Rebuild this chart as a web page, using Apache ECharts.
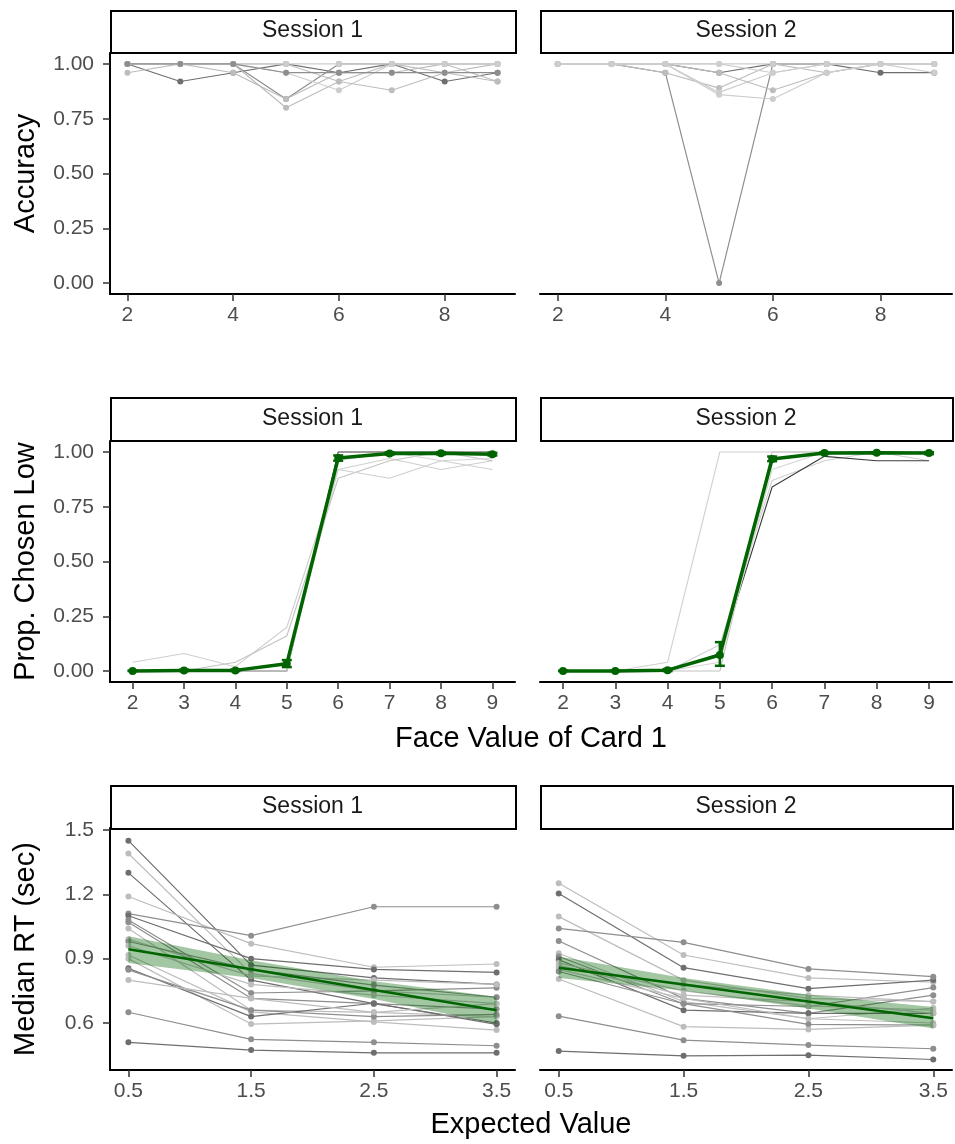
<!DOCTYPE html>
<html>
<head>
<meta charset="utf-8">
<script src="https://cdn.jsdelivr.net/npm/echarts@6.0.0/dist/echarts.min.js"></script>
<style>
  html, body { margin: 0; padding: 0; background: #ffffff; }
  #chart { width: 955px; height: 1144px; }
</style>
</head>
<body>
<div id="chart"></div>
<script>
// ---- data -------------------------------------------------------------
const sessions = ['Session 1', 'Session 2'];
const faceValues = [2, 3, 4, 5, 6, 7, 8, 9];
const expectedValues = [0.5, 1.5, 2.5, 3.5];

const accuracyTicks = [0, 0.25, 0.5, 0.75, 1];
const faceTicksSparse = [2, 4, 6, 8];
const faceTicksAll = [2, 3, 4, 5, 6, 7, 8, 9];
const rtTicks = [0.6, 0.9, 1.2, 1.5];
const evTicks = [0.5, 1.5, 2.5, 3.5];

// accuracy per participant, one row per participant, one value per face value
const accuracyS1 = [
  [1.00, 0.92, 0.96, 1.00, 0.96, 1.00, 0.92, 0.96],
  [1.00, 1.00, 1.00, 0.84, 1.00, 1.00, 1.00, 1.00],
  [1.00, 1.00, 1.00, 0.80, 0.92, 1.00, 0.96, 1.00],
  [0.96, 1.00, 0.96, 0.84, 0.96, 0.96, 1.00, 0.92],
  [1.00, 1.00, 1.00, 0.96, 0.88, 1.00, 1.00, 1.00],
  [1.00, 1.00, 1.00, 1.00, 0.92, 0.88, 0.96, 0.92],
  [1.00, 1.00, 1.00, 1.00, 1.00, 1.00, 1.00, 1.00],
  [1.00, 1.00, 1.00, 0.96, 0.96, 0.96, 0.96, 0.96]
];
const accuracyS2 = [
  [1.00, 1.00, 0.96, 0.00, 1.00, 1.00, 1.00, 1.00],
  [1.00, 1.00, 1.00, 0.96, 1.00, 1.00, 0.96, 0.96],
  [1.00, 1.00, 0.96, 0.89, 1.00, 0.96, 1.00, 1.00],
  [1.00, 1.00, 1.00, 0.87, 0.96, 1.00, 1.00, 0.96],
  [1.00, 1.00, 1.00, 0.96, 0.88, 0.96, 1.00, 1.00],
  [1.00, 1.00, 1.00, 0.86, 0.84, 0.96, 1.00, 1.00],
  [1.00, 1.00, 1.00, 1.00, 0.96, 1.00, 1.00, 1.00],
  [1.00, 1.00, 1.00, 1.00, 1.00, 1.00, 1.00, 1.00]
];

// proportion of "low" choices per participant
const choiceS1 = [
  [0.04, 0.08, 0.02, 0.20, 0.92, 0.97, 0.92, 0.96],
  [0.00, 0.00, 0.04, 0.16, 0.88, 0.96, 1.00, 0.96],
  [0.00, 0.00, 0.00, 0.04, 0.92, 0.88, 0.96, 0.92],
  [0.00, 0.00, 0.00, 0.00, 1.00, 1.00, 1.00, 1.00],
  [0.00, 0.00, 0.00, 0.00, 0.96, 1.00, 0.96, 0.97]
];
const choiceS2 = [
  [0.00, 0.00, 0.04, 1.00, 1.00, 1.00, 1.00, 1.00],
  [0.00, 0.00, 0.00, 0.00, 1.00, 1.00, 1.00, 1.00],
  [0.00, 0.00, 0.00, 0.12, 0.87, 0.96, 1.00, 0.96],
  [0.00, 0.00, 0.00, 0.08, 0.84, 0.98, 0.96, 0.96],
  [0.00, 0.00, 0.00, 0.04, 0.92, 1.00, 1.00, 1.00]
];
// group mean with error bar limits
const choiceMeanS1 = [0.000, 0.003, 0.003, 0.033, 0.972, 0.993, 0.994, 0.990];
const choiceLowS1  = [0.000, 0.000, 0.000, 0.018, 0.960, 0.988, 0.989, 0.984];
const choiceHighS1 = [0.002, 0.006, 0.007, 0.050, 0.984, 0.998, 0.999, 0.996];
const choiceMeanS2 = [0.000, 0.000, 0.004, 0.073, 0.968, 0.995, 0.996, 0.995];
const choiceLowS2  = [0.000, 0.000, 0.000, 0.024, 0.958, 0.991, 0.993, 0.990];
const choiceHighS2 = [0.001, 0.001, 0.009, 0.132, 0.979, 0.999, 0.999, 0.999];

// median RT (sec) per participant
const rtS1 = [
  [1.45, 0.87, 0.81, 0.78],
  [1.39, 0.83, 0.75, 0.72],
  [1.30, 0.80, 0.69, 0.60],
  [1.19, 0.97, 0.86, 0.875],
  [1.11, 1.007, 1.142, 1.142],
  [1.10, 0.90, 0.85, 0.836],
  [1.08, 0.74, 0.75, 0.764],
  [1.07, 0.715, 0.69, 0.665],
  [1.04, 0.66, 0.65, 0.63],
  [0.99, 0.82, 0.80, 0.78],
  [0.98, 0.85, 0.777, 0.72],
  [0.96, 0.78, 0.73, 0.69],
  [0.917, 0.652, 0.605, 0.567],
  [0.90, 0.595, 0.61, 0.63],
  [0.855, 0.63, 0.692, 0.594],
  [0.848, 0.66, 0.63, 0.64],
  [0.80, 0.715, 0.65, 0.69],
  [0.65, 0.524, 0.51, 0.494],
  [0.51, 0.474, 0.461, 0.461]
];
const rtS2 = [
  [1.251, 0.917, 0.81, 0.79],
  [1.204, 0.858, 0.76, 0.80],
  [1.096, 0.80, 0.715, 0.70],
  [1.041, 0.976, 0.852, 0.816],
  [0.982, 0.715, 0.645, 0.73],
  [0.925, 0.70, 0.62, 0.67],
  [0.91, 0.69, 0.677, 0.765],
  [0.895, 0.66, 0.645, 0.645],
  [0.88, 0.75, 0.68, 0.66],
  [0.87, 0.73, 0.70, 0.645],
  [0.86, 0.78, 0.73, 0.70],
  [0.85, 0.715, 0.62, 0.60],
  [0.84, 0.69, 0.594, 0.59],
  [0.805, 0.583, 0.57, 0.59],
  [0.632, 0.52, 0.497, 0.48],
  [0.469, 0.447, 0.45, 0.43]
];
// fitted trend with confidence band
const rtFitS1  = [0.944, 0.851, 0.754, 0.660];
const rtFitLoS1 = [0.880, 0.810, 0.712, 0.595];
const rtFitHiS1 = [1.005, 0.893, 0.795, 0.722];
const rtFitS2  = [0.858, 0.780, 0.700, 0.622];
const rtFitLoS2 = [0.810, 0.752, 0.668, 0.575];
const rtFitHiS2 = [0.910, 0.810, 0.732, 0.675];

// ---- styling ----------------------------------------------------------
const FONT = '"Liberation Sans", Arial, Helvetica, sans-serif';
const GREEN = '#006400';
const DARK = '#6e6e6e', MID = '#8e8e8e', LIGHT = '#bdbdbd', PALE = '#cdcdcd';
const accShadesS1 = [DARK, MID, LIGHT, LIGHT, PALE, LIGHT, PALE, MID];
const accShadesS2 = [MID, DARK, LIGHT, PALE, LIGHT, PALE, PALE, PALE];
const choiceShades = ['#cfcfcf', '#c2c2c2', '#cfcfcf', '#3c3c3c', '#d6d6d6'];
const rtShadesS1 = [DARK, LIGHT, DARK, LIGHT, MID, DARK, MID, MID, LIGHT, LIGHT,
                    MID, LIGHT, LIGHT, LIGHT, DARK, MID, LIGHT, MID, DARK];
const rtShadesS2 = [LIGHT, DARK, LIGHT, MID, MID, LIGHT, MID, DARK, LIGHT, LIGHT,
                    LIGHT, LIGHT, MID, LIGHT, MID, DARK];

// ---- layout -----------------------------------------------------------
const panelLeft = [110, 540];
const panelWidth = [405, 412];
const rows = [
  { top: 53,  height: 241, stripTop: 10,  stripH: 42 },
  { top: 441, height: 241, stripTop: 397, stripH: 43 },
  { top: 828, height: 242, stripTop: 785, stripH: 43 }
];

const grids = [], xAxes = [], yAxes = [], series = [], graphics = [];

const rowAxes = [
  { xMin: 1.67, xMax: 9.33, xTicks: faceTicksSparse, xFmt: v => String(v),
    yMin: -0.05, yMax: 1.05, yTicks: accuracyTicks, yFmt: v => v.toFixed(2), yName: 'Accuracy' },
  { xMin: 1.56, xMax: 9.44, xTicks: faceTicksAll, xFmt: v => String(v),
    yMin: -0.05, yMax: 1.05, yTicks: accuracyTicks, yFmt: v => v.toFixed(2), yName: 'Prop. Chosen Low' },
  { xMin: 0.35, xMax: 3.65, xTicks: evTicks, xFmt: v => v.toFixed(1),
    yMin: 0.381, yMax: 1.509, yTicks: rtTicks, yFmt: v => v.toFixed(1), yName: 'Median RT (sec)' }
];

rows.forEach((row, r) => {
  const ax = rowAxes[r];
  for (let c = 0; c < 2; c++) {
    const idx = r * 2 + c;
    grids.push({ left: panelLeft[c], top: row.top, width: panelWidth[c], height: row.height, containLabel: false });
    xAxes.push({
      gridIndex: idx, type: 'value', min: ax.xMin, max: ax.xMax,
      axisLine: { show: true, onZero: false, lineStyle: { color: '#000', width: 2 } },
      axisTick: { show: true, length: 7, customValues: ax.xTicks, lineStyle: { color: '#333', width: 1.5 } },
      axisLabel: { customValues: ax.xTicks, formatter: ax.xFmt, color: '#4d4d4d', fontSize: 21, fontFamily: FONT, margin: 11 },
      splitLine: { show: false }
    });
    yAxes.push({
      gridIndex: idx, type: 'value', min: ax.yMin, max: ax.yMax, show: c === 0,
      name: c === 0 ? ax.yName : '', nameLocation: 'middle', nameGap: 70,
      nameTextStyle: { color: '#000', fontSize: 29, fontFamily: FONT },
      axisLine: { show: true, onZero: false, lineStyle: { color: '#000', width: 2 } },
      axisTick: { show: true, length: 7, customValues: ax.yTicks, lineStyle: { color: '#333', width: 1.5 } },
      axisLabel: { customValues: ax.yTicks, formatter: ax.yFmt, color: '#4d4d4d', fontSize: 21, fontFamily: FONT, margin: 16 },
      splitLine: { show: false }
    });
    // facet strip
    graphics.push({
      type: 'rect', left: panelLeft[c], top: row.stripTop,
      shape: { width: panelWidth[c], height: row.stripH },
      style: { fill: '#fff', stroke: '#000', lineWidth: 2 }, z: 10
    });
    graphics.push({
      type: 'text', x: panelLeft[c] + panelWidth[c] / 2, y: row.stripTop + row.stripH / 2,
      style: { text: sessions[c], font: '23px ' + FONT, fill: '#1a1a1a', align: 'center', verticalAlign: 'middle' },
      z: 11
    });
  }
});

function participantLines(gridIdx, xs, rowsData, shades, withPoints, width) {
  rowsData.forEach((vals, p) => {
    series.push({
      type: 'line', xAxisIndex: gridIdx, yAxisIndex: gridIdx,
      data: xs.map((x, i) => [x, vals[i]]),
      symbol: withPoints ? 'circle' : 'none', symbolSize: 6,
      lineStyle: { color: shades[p], width: width },
      itemStyle: { color: shades[p] },
      z: 2, silent: true, animation: false
    });
  });
}

function meanLine(gridIdx, xs, vals, withPoints, width) {
  series.push({
    type: 'line', xAxisIndex: gridIdx, yAxisIndex: gridIdx,
    data: xs.map((x, i) => [x, vals[i]]),
    symbol: withPoints ? 'circle' : 'none', symbolSize: 8,
    lineStyle: { color: GREEN, width: width },
    itemStyle: { color: GREEN },
    z: 5, silent: true, animation: false
  });
}

function errorBars(gridIdx, xs, lows, highs) {
  series.push({
    type: 'custom', xAxisIndex: gridIdx, yAxisIndex: gridIdx,
    data: xs.map((x, i) => [x, lows[i], highs[i]]),
    renderItem(params, api) {
      const lo = api.coord([api.value(0), api.value(1)]);
      const hi = api.coord([api.value(0), api.value(2)]);
      const hw = 5;
      const st = { stroke: GREEN, lineWidth: 2.5 };
      return {
        type: 'group', children: [
          { type: 'line', shape: { x1: lo[0], y1: lo[1], x2: hi[0], y2: hi[1] }, style: st },
          { type: 'line', shape: { x1: lo[0] - hw, y1: lo[1], x2: lo[0] + hw, y2: lo[1] }, style: st },
          { type: 'line', shape: { x1: hi[0] - hw, y1: hi[1], x2: hi[0] + hw, y2: hi[1] }, style: st }
        ]
      };
    },
    z: 6, silent: true, animation: false
  });
}

function band(gridIdx, xs, lows, highs) {
  series.push({
    type: 'custom', xAxisIndex: gridIdx, yAxisIndex: gridIdx,
    data: xs.map((x, i) => [x, lows[i], highs[i]]),
    renderItem(params, api) {
      if (params.dataIndex !== 0) return null;
      const upper = xs.map((x, i) => api.coord([x, highs[i]]));
      const lower = xs.map((x, i) => api.coord([x, lows[i]])).reverse();
      return {
        type: 'polygon', shape: { points: upper.concat(lower) },
        style: { fill: 'rgba(0, 100, 0, 0.36)' }
      };
    },
    z: 3, silent: true, animation: false
  });
}

// accuracy
participantLines(0, faceValues, accuracyS1, accShadesS1, true, 1.2);
participantLines(1, faceValues, accuracyS2, accShadesS2, true, 1.2);
// choices
participantLines(2, faceValues, choiceS1, choiceShades, false, 1.1);
participantLines(3, faceValues, choiceS2, choiceShades, false, 1.1);
meanLine(2, faceValues, choiceMeanS1, true, 3.5);
meanLine(3, faceValues, choiceMeanS2, true, 3.5);
errorBars(2, faceValues, choiceLowS1, choiceHighS1);
errorBars(3, faceValues, choiceLowS2, choiceHighS2);
// response times
participantLines(4, expectedValues, rtS1, rtShadesS1, true, 1.2);
participantLines(5, expectedValues, rtS2, rtShadesS2, true, 1.2);
band(4, expectedValues, rtFitLoS1, rtFitHiS1);
band(5, expectedValues, rtFitLoS2, rtFitHiS2);
meanLine(4, expectedValues, rtFitS1, false, 2.5);
meanLine(5, expectedValues, rtFitS2, false, 2.5);

// shared x-axis titles
graphics.push({
  type: 'text', x: 531, y: 739,
  style: { text: 'Face Value of Card 1', font: '29px ' + FONT, fill: '#000', align: 'center', verticalAlign: 'middle' }
});
graphics.push({
  type: 'text', x: 531, y: 1125,
  style: { text: 'Expected Value', font: '29px ' + FONT, fill: '#000', align: 'center', verticalAlign: 'middle' }
});

const chart = echarts.init(document.getElementById('chart'), null, { renderer: 'canvas' });
chart.setOption({
  backgroundColor: '#ffffff',
  animation: false,
  grid: grids,
  xAxis: xAxes,
  yAxis: yAxes,
  series: series,
  graphic: graphics
});
</script>
</body>
</html>
